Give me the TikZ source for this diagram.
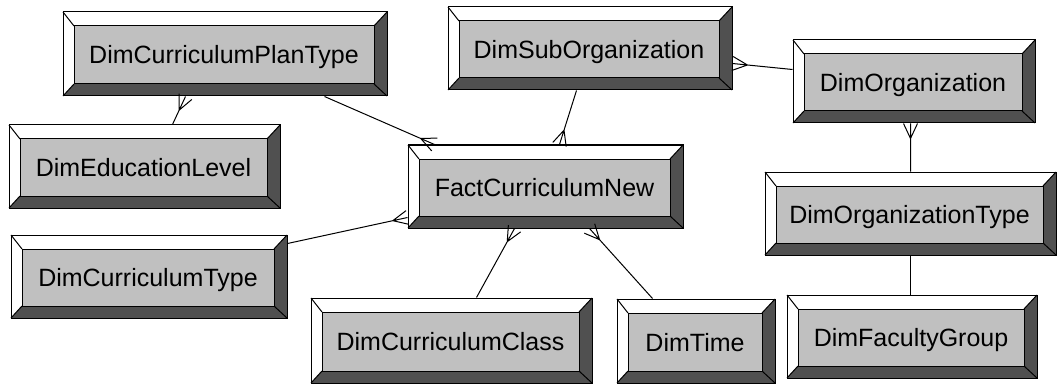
\documentclass[tikz,border=0pt]{standalone}
\usepackage{fontspec}
\setmainfont{Liberation Sans}
\usetikzlibrary{calc}

\definecolor{face}{RGB}{192,192,192}
\definecolor{bevdark}{RGB}{80,80,80}

\tikzset{
  edge/.style={draw=black, line width=1pt},
  boxnode/.style={draw=black, line width=1pt, inner sep=0pt, fill=none},
  boxtext/.style={inner sep=0pt, anchor=base, font=\fontsize{25}{30}\selectfont},
  conn/.style={draw=black, line width=1pt},
  crowend/.style={to path={(\tikztostart) -- (\tikztotarget)
      ($(\tikztotarget)!15pt!(\tikztostart)$) -- ($(\tikztotarget)!7pt!90:(\tikztostart)$)
      ($(\tikztotarget)!15pt!(\tikztostart)$) -- ($(\tikztotarget)!7pt!-90:(\tikztostart)$)}}
}

% beveled table box: name, x1, y1, x2, y2 (pixels, y downward), label
\newcommand\bevelbox[6]{%
  \fill[white] (#2,#3) rectangle (#4,#5);
  \fill[bevdark] (#4,#3) -- (#4,#5) -- (#2,#5) -- (#2+11,#5-12) -- (#4-13,#5-12) -- (#4-13,#3+14) -- cycle;
  \fill[face] (#2+11,#3+14) rectangle (#4-13,#5-12);
  \draw[edge] (#2,#3) -- (#2+11,#3+14) (#4,#3) -- (#4-13,#3+14)
              (#2,#5) -- (#2+11,#5-12) (#4,#5) -- (#4-13,#5-12);
  \draw[edge] (#2+11,#3+14) rectangle (#4-13,#5-12);
  \pgfmathsetmacro\bxw{#4-#2}\pgfmathsetmacro\bxh{#5-#3}%
  \node[boxnode, minimum width=\bxw pt, minimum height=\bxh pt] (#1) at ({(#2+#4)/2},{(#3+#5)/2}) {};
  \node[boxtext] at ({(#2+#4)/2-1},{(#3+#5)/2+10}) {#6};
}

\begin{document}
\begin{tikzpicture}[x=1pt,y=-1pt]
\useasboundingbox[fill=white] (0,0) rectangle (1057,385);

\bevelbox{plan}{63}{12}{387}{96}{DimCurriculumPlanType}
\bevelbox{edu}{9}{125}{280}{208}{DimEducationLevel}
\bevelbox{sub}{448}{7}{732}{90}{DimSubOrganization}
\bevelbox{fact}{408}{145}{683}{228}{FactCurriculumNew}
\bevelbox{org}{793}{40}{1035}{123}{DimOrganization}
\bevelbox{otype}{765}{172}{1056}{255}{DimOrganizationType}
\bevelbox{fac}{787}{295}{1037}{378}{DimFacultyGroup}
\bevelbox{ctype}{11}{235}{287}{318}{DimCurriculumType}
\bevelbox{cclass}{311}{298}{592}{383}{DimCurriculumClass}
\bevelbox{time}{617}{299}{775}{383}{DimTime}

% connector end points on the box borders
\coordinate (e1) at ($(edu.north west)+(164,0)$);
\coordinate (p1) at ($(plan.south west)+(123,0)$);
\coordinate (p2) at ($(plan.south west)+(262,0)$);
\coordinate (f1) at ($(fact.north west)+(27,0)$);
\coordinate (s1) at ($(sub.south west)+(129,0)$);
\coordinate (f2) at ($(fact.north west)+(152,0)$);
\coordinate (o1) at ($(org.north west)+(0,30)$);
\coordinate (s2) at ($(sub.north east)+(0,57)$);
\coordinate (t1) at ($(otype.north west)+(146,0)$);
\coordinate (o2) at ($(org.south west)+(118,0)$);
\coordinate (g1) at ($(fac.north west)+(124,0)$);
\coordinate (t2) at ($(otype.south west)+(146,0)$);
\coordinate (y1) at ($(ctype.north east)+(0,9)$);
\coordinate (f3) at ($(fact.north west)+(0,73)$);
\coordinate (k1) at ($(cclass.north west)+(166,0)$);
\coordinate (f4) at ($(fact.south west)+(107,0)$);
\coordinate (m1) at ($(time.north west)+(36,0)$);
\coordinate (f5) at ($(fact.south west)+(182,0)$);

% relationships (crow's foot on the many side)
\draw[conn] (e1) to[crowend] (p1);
\draw[conn] (p2) to[crowend] (f1);
\draw[conn] (s1) to[crowend] (f2);
\draw[conn] (o1) to[crowend] (s2);
\draw[conn] (t1) to[crowend] (o2);
\draw[conn] (g1) -- (t2);
\draw[conn] (y1) to[crowend] (f3);
\draw[conn] (k1) to[crowend] (f4);
\draw[conn] (m1) to[crowend] (f5);
\end{tikzpicture}
\end{document}
